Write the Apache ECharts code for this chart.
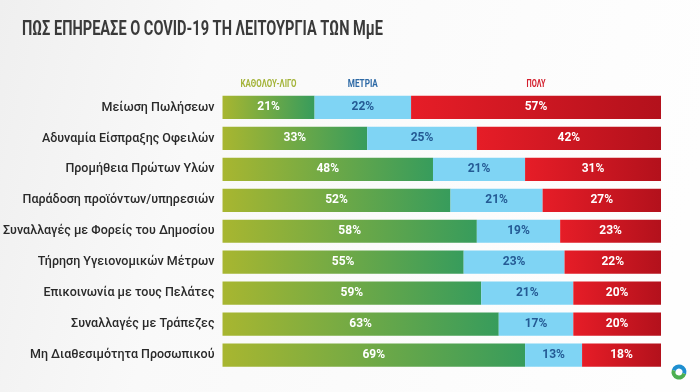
<!DOCTYPE html>
<html><head><meta charset="utf-8">
<script src="https://cdn.jsdelivr.net/npm/echarts@6/dist/echarts.min.js"></script>
<style>html,body{margin:0;padding:0;}#c{width:700px;height:392px;}</style>
</head><body><div id="c"></div>
<script>
const title = 'ΠΩΣ ΕΠΗΡΕΑΣΕ Ο COVID-19 ΤΗ ΛΕΙΤΟΥΡΓΙΑ ΤΩΝ ΜμΕ';
const categories = ['Μείωση Πωλήσεων','Αδυναμία Είσπραξης Οφειλών','Προμήθεια Πρώτων Υλών','Παράδοση προϊόντων/υπηρεσιών','Συναλλαγές με Φορείς του Δημοσίου','Τήρηση Υγειονομικών Μέτρων','Επικοινωνία με τους Πελάτες','Συναλλαγές με Τράπεζες','Μη Διαθεσιμότητα Προσωπικού'];
const seriesNames = ['ΚΑΘΟΛΟΥ-ΛΙΓΟ','ΜΕΤΡΙΑ','ΠΟΛΥ'];
const low = [21,33,48,52,58,55,59,63,69];
const mid = [22,25,21,21,19,23,21,17,13];
const high = [57,42,31,27,23,22,20,20,18];

const FONT = 'Roboto,"DejaVu Sans",sans-serif';
const mctx = document.createElement('canvas').getContext('2d');
function measure(text, font){ mctx.font = font; return mctx.measureText(text).width; }

const chart = echarts.init(document.getElementById('c'));
const lbl = (color) => ({show:true, position:'inside', formatter:'{c}%', color:color, fontFamily:FONT, fontWeight:'bold', fontSize:12});
const option = {
  backgroundColor: {type:'linear', x:0, y:0, x2:1, y2:0.4, colorStops:[{offset:0,color:'#efefef'},{offset:0.3,color:'#f9f9f9'},{offset:1,color:'#fefefe'}]},
  animation:false,
  grid:{left:222, right:39, top:92, bottom:21.5},
  xAxis:{type:'value', min:0, max:100, show:false},
  yAxis:{type:'category', data:categories, inverse:true, axisLine:{show:false}, axisTick:{show:false},
    axisLabel:{color:'#2a2a2a', fontFamily:FONT, fontWeight:500, fontSize:12.5, margin:8}},
  series:[
    {name:seriesNames[0], type:'bar', stack:'s', data:low, barCategoryGap:'25%',
      itemStyle:{color:{type:'linear',x:0,y:0,x2:1,y2:0,colorStops:[{offset:0,color:'#a8b630'},{offset:1,color:'#379c5c'}]}},
      label:lbl('#ffffff')},
    {name:seriesNames[1], type:'bar', stack:'s', data:mid,
      itemStyle:{color:'#7fd4f4'}, label:lbl('#245a94')},
    {name:seriesNames[2], type:'bar', stack:'s', data:high,
      itemStyle:{color:{type:'linear',x:0,y:0,x2:1,y2:0,colorStops:[{offset:0,color:'#e61d27'},{offset:1,color:'#b3111c'}]}},
      label:lbl('#ffffff')}
  ]
};
chart.setOption(option);

const g = [];
const tFont = 'bold 20px ' + FONT;
const tW = measure(title, tFont);
g.push({type:'text', x:22, y:30, scaleX:361/tW, style:{text:title, fill:'#3a3a3a', font:tFont, textAlign:'left', textVerticalAlign:'middle'}});
const headColors = ['#a4b43a','#2e6aa6','#d4202e'];
const headWidths = [56, 30, 19];
const starts = [0, low[0], low[0]+mid[0]];
const widths = [low[0], mid[0], high[0]];
const hFont = 'bold 11px ' + FONT;
for (let i=0;i<3;i++){
  const p = chart.convertToPixel({gridIndex:0}, [starts[i]+widths[i]/2, categories[0]]);
  const w = measure(seriesNames[i], hFont);
  g.push({type:'text', x:p[0], y:84.5, scaleX:headWidths[i]/w, style:{text:seriesNames[i], fill:headColors[i], font:hFont, textAlign:'center', textVerticalAlign:'middle'}});
}
g.push({type:'arc', shape:{cx:679,cy:372,r:5.5,startAngle:Math.PI*1.1,endAngle:Math.PI*2.1}, style:{stroke:'#1f8fd0',lineWidth:4,fill:null}});
g.push({type:'arc', shape:{cx:679,cy:372,r:5.5,startAngle:Math.PI*0.1,endAngle:Math.PI*1.1}, style:{stroke:'#4caf50',lineWidth:4,fill:null}});
chart.setOption({graphic:g});
</script></body></html>
